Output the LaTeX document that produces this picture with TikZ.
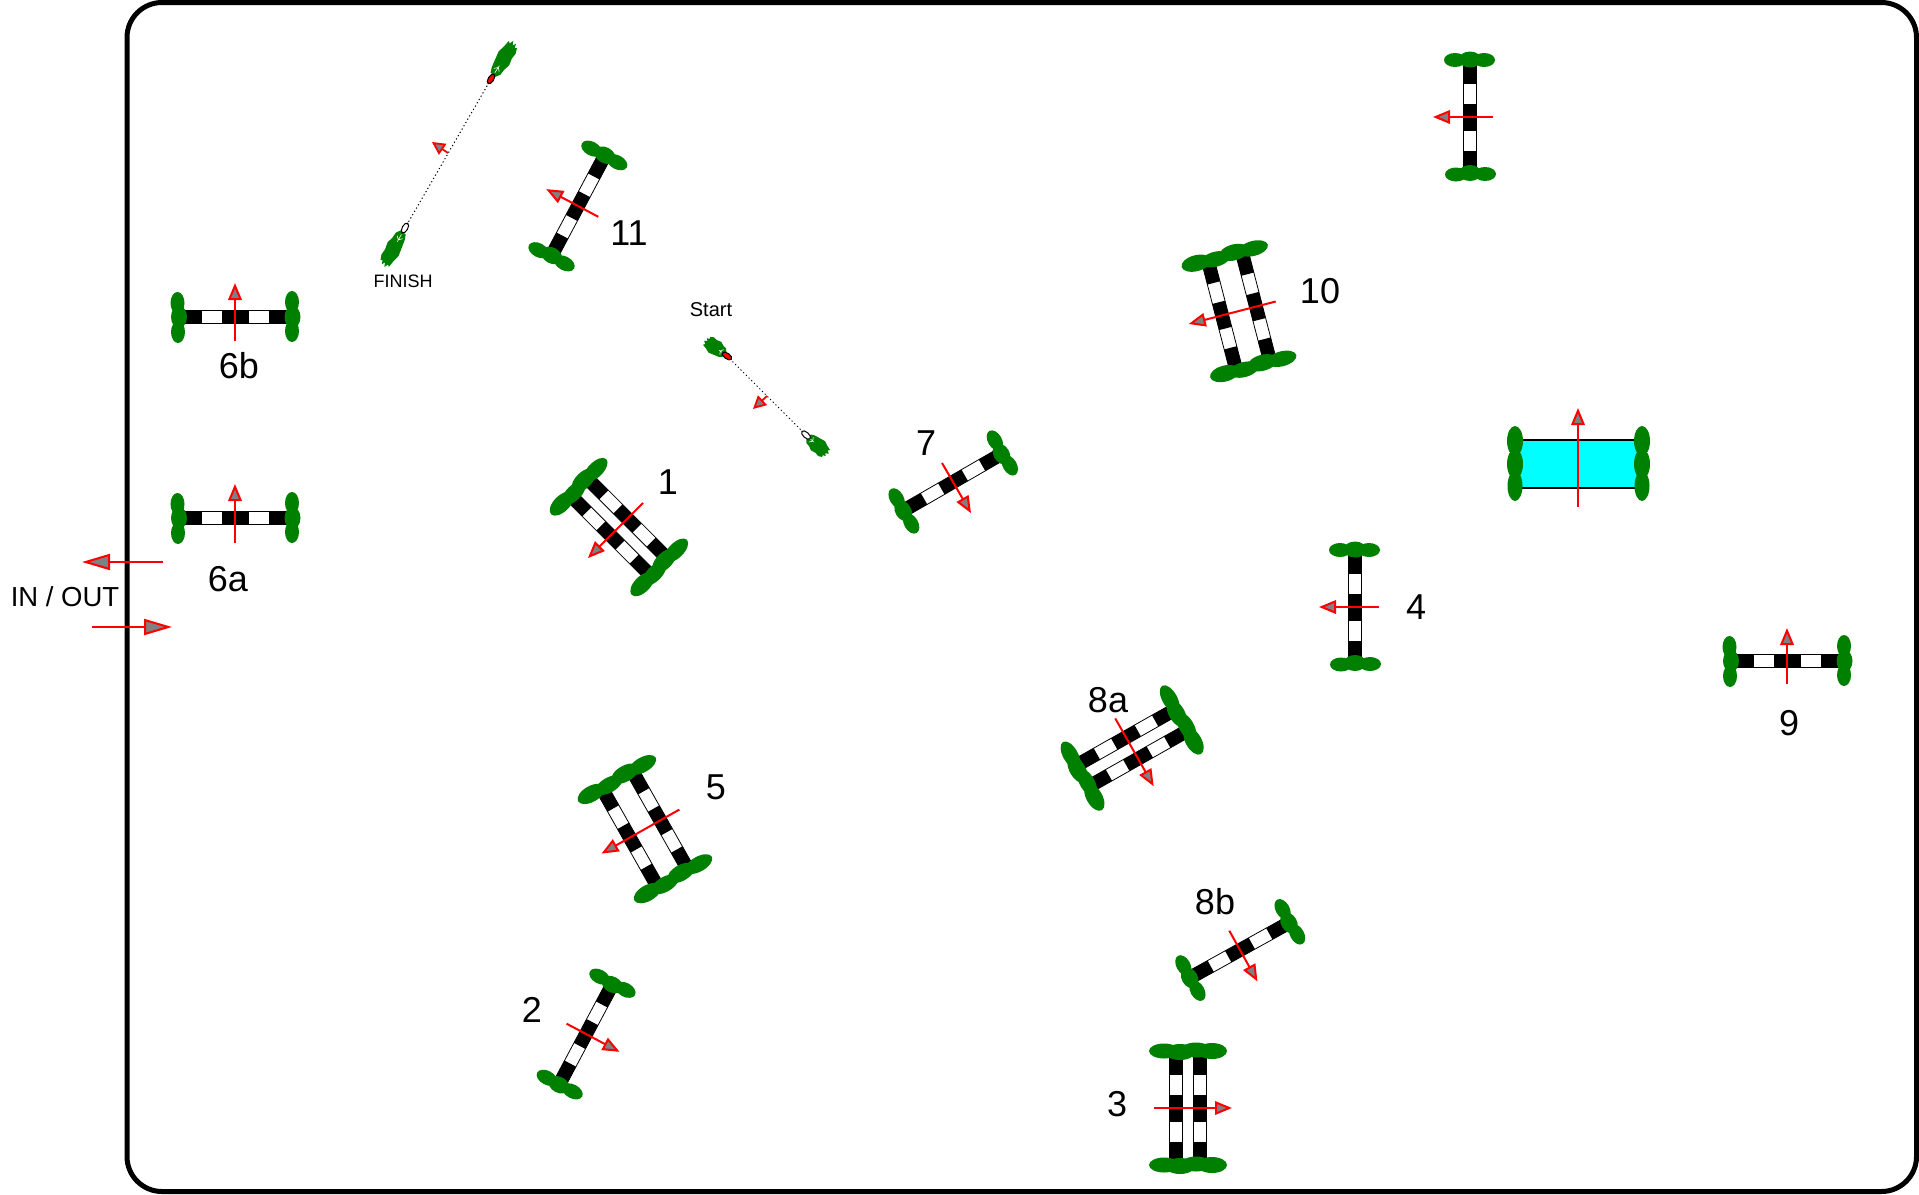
\documentclass[tikz,border=0pt]{standalone}
\usepackage{fontspec}
\setmainfont{Liberation Sans}
\usetikzlibrary{arrows.meta}
\definecolor{hedge}{RGB}{0,128,0}
\definecolor{headgray}{RGB}{128,128,128}
\definecolor{waterc}{RGB}{0,255,255}
\tikzset{
  frameline/.style={draw=black,line width=5pt,rounded corners=35pt},
  railedge/.style={draw=black,line width=0.8pt,fill=white},
  redline/.style={draw=red,line width=2pt},
  dirhead/.style={redline,-{Triangle[length=17pt,width=13.5pt,fill=headgray,color=red,line width=2pt]}},
  smallhead/.style={draw=red,line width=1.8pt,-{Triangle[length=13pt,width=13pt,fill=headgray,color=red,line width=1.8pt]}},
  bighead/.style={redline,-{Triangle[length=28pt,width=16pt,fill=headgray,color=red,line width=2pt]}},
  num/.style={font=\fontsize{36}{36}\selectfont,inner sep=0pt},
  inout/.style={font=\fontsize{27.5}{28}\selectfont,inner sep=0pt},
  small/.style={font=\fontsize{18}{18}\selectfont,inner sep=0pt},
  smallb/.style={font=\fontsize{20}{20}\selectfont,inner sep=0pt},
  gate/.style={line width=1pt,draw=black}
}
% one rail, local y offset #1
\newcommand{\railbar}[1]{%
  \begin{scope}[yshift=#1pt]
    \path[railedge] (-52.5,-6.5) rectangle (52.5,6.5);
    \fill[black] (-52.5,-6.5) rectangle (-33.5,6.5);
    \fill[black] (-13.5,-6.5) rectangle (13.5,6.5);
    \fill[black] (33.5,-6.5) rectangle (52.5,6.5);
  \end{scope}}
% single hedge pair
\newcommand{\hedgesingle}{%
  \fill[hedge] (-57,-15) ellipse [x radius=7,y radius=11];
  \fill[hedge] (-56,0) ellipse [x radius=8,y radius=11];
  \fill[hedge] (-57.5,14) ellipse [x radius=7,y radius=11];
  \fill[hedge] (57,-14) ellipse [x radius=7,y radius=11];
  \fill[hedge] (57.5,0) ellipse [x radius=8,y radius=11];
  \fill[hedge] (57,15) ellipse [x radius=7,y radius=11];}
% name, x, y, rot, tail, tip
\newcommand{\jumpone}[6]{%
  \begin{scope}[shift={(#2,-#3)},rotate=#4]
    \railbar{0}
    \hedgesingle
    \coordinate (#1t) at (0,#5);
    \coordinate (#1h) at (0,#6);
    \draw[dirhead] (#1t) -- (#1h);
  \end{scope}}
% name, x, y, rot, sep, tail, tip
\newcommand{\jumptwo}[7]{%
  \begin{scope}[shift={(#2,-#3)},rotate=#4]
    \pgfmathsetmacro{\hs}{#5/2}
    \railbar{\hs}
    \railbar{-\hs}
    \foreach \s in {-57,57}{
      \pgfmathsetmacro{\po}{#5/2+12}
      \pgfmathsetmacro{\pi}{#5/6+4}
      \fill[hedge] (\s,-\po) ellipse [x radius=7.5,y radius=15];
      \fill[hedge] (\s+1,-\pi) ellipse [x radius=8,y radius=15];
      \fill[hedge] (\s-1,\pi) ellipse [x radius=7.5,y radius=15];
      \fill[hedge] (\s,\po) ellipse [x radius=8,y radius=15];
    }
    \coordinate (#1t) at (0,#6);
    \coordinate (#1h) at (0,#7);
    \draw[dirhead] (#1t) -- (#1h);
  \end{scope}}
% name, x, y, angle, gate fill, length
\newcommand{\flagpost}[6]{%
  \begin{scope}[shift={(#2,-#3)},rotate=#4]
    \coordinate (#1) at (0,0);
    \begin{scope}[xscale=#6/40,yscale=1.25]
      \fill[hedge] (4,-2) -- (8,-4.5) -- (14,-5) -- (20,-6.5) -- (27,-5.5) -- (33,-6) -- (38,-4.5) -- (37,-3) -- (41,-2) -- (38,-0.5) -- (42,1) -- (38,2.5) -- (40,4) -- (33,5) -- (26,6.5) -- (18,5.5) -- (10,4.5) -- (5,3) -- cycle;
      \draw[white,line width=0.6pt] (7,0) -- (15,0) (10,-2.5) -- (13,0) (10,2.5) -- (13,0);
    \end{scope}
    \filldraw[gate,fill=#5] (0,0) ellipse [x radius=5.5,y radius=2.8];
  \end{scope}}
\begin{document}
\begin{tikzpicture}[x=1pt,y=1pt]
\useasboundingbox (0,0) rectangle (1919,-1194);
\fill[white] (0,0) rectangle (1919,-1194);
\draw[frameline] (127,-2.5) rectangle (1916.5,-1191.5);

\jumpone{a}{235}{317}{0}{-24}{34}
\jumpone{b}{235}{518}{0}{-25}{34}
\jumpone{c}{1787}{661}{0}{-23}{33}
\jumpone{d}{1470}{117}{90}{-23}{37}
\jumpone{e}{1355}{607}{90}{-24}{36}
\jumpone{f}{578}{206}{62}{-23}{36}
\jumpone{g}{586}{1034}{-118}{-22}{38}
\jumpone{h}{953}{482}{-150}{-22}{36}
\jumpone{i}{1240}{950}{-151}{-22}{36}

\jumptwo{j}{1188}{1108}{-90}{24}{-34}{44}
\jumptwo{k}{619}{527}{135}{24}{-34}{44}
\jumptwo{l}{645}{829}{119.5}{35}{-39.5}{50}
\jumptwo{m}{1132}{748}{-150.5}{24.5}{-34}{44}
\jumptwo{n}{1239}{311}{104.5}{35}{-38}{52}

% water
\fill[waterc] (1520,-440) rectangle (1637,-488);
\draw[black,line width=2pt] (1520,-440) -- (1637,-440) (1520,-488) -- (1637,-488);
\foreach \xx in {1515,1642}{
  \fill[hedge] (\xx,-441) ellipse [x radius=8,y radius=15];
  \fill[hedge] (\xx,-464) ellipse [x radius=8,y radius=15];
  \fill[hedge] (\xx,-486) ellipse [x radius=7.5,y radius=15];
}
\coordinate (wt) at (1578,-507);
\coordinate (wh) at (1578,-408);
\draw[dirhead] (wt) -- (wh);

% flags
\flagpost{fa}{491}{79}{58}{red}{42}
\flagpost{fb}{405}{228}{240.6}{white}{42}
\draw[black,line width=1pt,dash pattern=on 1.2pt off 2.6pt,shorten <=4pt,shorten >=4pt] (fa) -- (fb);
\coordinate (ft) at (448,-153);
\coordinate (fh) at (432,-142);
\draw[smallhead] (ft) -- (fh);

\flagpost{sa}{727}{356}{144}{red}{26}
\flagpost{sb}{806}{435}{-42}{white}{28}
\draw[black,line width=1pt,dash pattern=on 1.2pt off 2.6pt,shorten <=4pt,shorten >=4pt] (sa) -- (sb);
\coordinate (st) at (767,-396);
\coordinate (sh) at (753,-409);
\draw[smallhead] (st) -- (sh);

% in / out arrows
\coordinate (it) at (163,-562);
\coordinate (ih) at (82,-562);
\draw[bighead] (it) -- (ih);
\coordinate (ot) at (92,-627);
\coordinate (oh) at (172,-627);
\draw[bighead] (ot) -- (oh);

% labels
\node[num] (l11) at (629,-233) {11};
\node[num] (l6b) at (239,-366) {6b};
\node[num] (l6a) at (228,-579) {6a};
\node[num] (l1) at (668,-482) {1};
\node[num] (l7) at (926,-443) {7};
\node[num] (l10) at (1320,-291) {10};
\node[num] (l4) at (1416,-607) {4};
\node[num] (l8a) at (1108,-700) {8a};
\node[num] (l5) at (716,-787) {5};
\node[num] (l9) at (1789,-723) {9};
\node[num] (l8b) at (1215,-902) {8b};
\node[num] (l2) at (532,-1010) {2};
\node[num] (l3) at (1117,-1104) {3};
\node[inout] (lio) at (65,-597) {IN / OUT};
\node[small] (lfin) at (403,-281) {FINISH};
\node[smallb] (lsta) at (711,-310) {Start};
\end{tikzpicture}
\end{document}
